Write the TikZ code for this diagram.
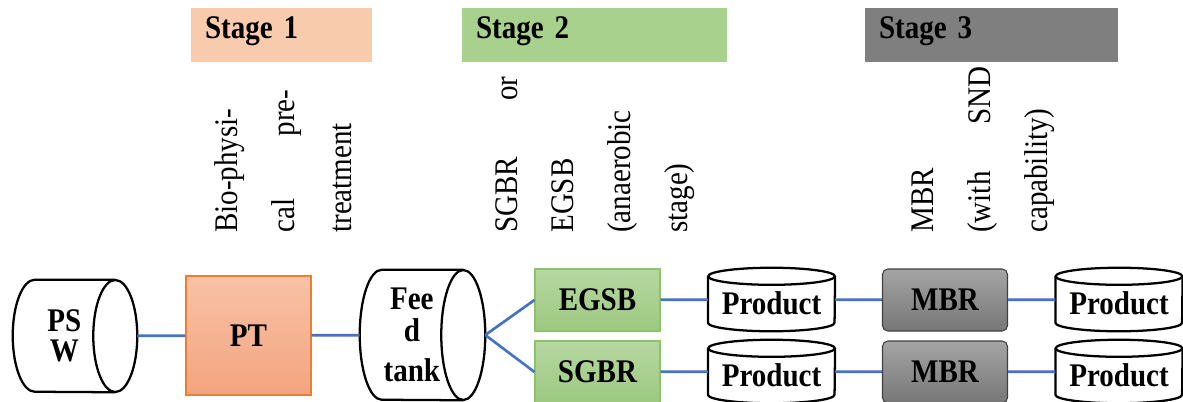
\documentclass[tikz,border=0pt]{standalone}
\usepackage{fontspec}
\setmainfont{Liberation Serif}[FakeStretch=0.88]
\definecolor{stageone}{HTML}{F7CBAC}
\definecolor{stagetwo}{HTML}{A9D18E}
\definecolor{stagethree}{HTML}{7F7F7F}
\definecolor{linkblue}{HTML}{4472C4}
\definecolor{pttop}{HTML}{F8C2A6}
\definecolor{ptbot}{HTML}{F3A47F}
\definecolor{ptline}{HTML}{ED7D31}
\definecolor{gtop}{HTML}{B6D7A1}
\definecolor{gbot}{HTML}{9CC980}
\definecolor{gline}{HTML}{8CC269}
\definecolor{mtop}{HTML}{A4A4A4}
\definecolor{mbot}{HTML}{777777}
\newcommand\lblsize{\fontsize{24.75}{24}\selectfont}
\tikzset{
  stagebox/.style={text width=#1, align=left, inner xsep=10.5pt, minimum height=40.5pt,
                   text height=15.75pt, text depth=11.25pt, font=\lblsize\bfseries},
  vnote/.style={rotate=90, anchor=base west, align=left, inner sep=0pt, text width=#1},
  unit/.style={draw, line width=0.8pt, minimum width=93.75pt, minimum height=46.5pt,
               font=\lblsize\bfseries, inner sep=0pt},
  drum/.style={align=center, font=\lblsize\bfseries, inner sep=0pt},
  prod/.style={minimum width=95pt, minimum height=47.25pt, text height=22pt, text depth=0pt,
               font=\lblsize\bfseries, inner sep=0pt},
  rim/.style={line width=1.7pt},
  link/.style={draw=linkblue, line width=2pt}
}
\begin{document}
\begin{tikzpicture}[x=0.75pt, y=-0.75pt]
\useasboundingbox (0,0) rectangle (1183,401);
% stages
\node[stagebox=114.75pt, fill=stageone] (stage1) at (281.5,35) {Stage 1};
\node[stagebox=177.75pt, fill=stagetwo] (stage2) at (594.5,35) {Stage 2};
\node[stagebox=168.75pt, fill=stagethree] (stage3) at (991.5,35) {Stage 3};
\node[vnote=107.25pt, font=\fontsize{24.75}{42.75}\selectfont] (note1) at (237,233)
  {Bio-physi-\\cal\hfill pre-\\treatment};
\node[vnote=117pt, font=\fontsize{24.75}{42.5}\selectfont] (note2) at (517,233)
  {SGBR\hfill or\\EGSB\\(anaerobic\\stage)};
\node[vnote=124.5pt, font=\fontsize{24.75}{42.75}\selectfont] (note3) at (933,233)
  {MBR\\(with\hfill SND\\capability)};
% process line
\node[drum, minimum width=93pt, minimum height=84pt] (psw) at (75,336)
  {PS\kern16pt\\[-1.5pt]W\kern16pt};
\node[unit, minimum height=89.25pt, draw=ptline, top color=pttop, bottom color=ptbot] (pt) at (248.5,335.5) {PT};
\node[drum, minimum width=93.75pt, minimum height=97.5pt] (feed) at (422.5,335)
  {Fee\kern16pt\\d\kern16pt\\[6pt]tank\kern16pt};
\foreach \t/\r in {psw/42pt, feed/48.75pt} {
  \draw[rim] ([xshift=-16.5pt]\t.north east) -- ([xshift=16.5pt]\t.north west)
    arc[start angle=90, end angle=270, x radius=16.5pt, y radius=\r]
    -- ([xshift=-16.5pt]\t.south east);
  \draw[rim] ([xshift=-16.5pt]\t.east) ellipse [x radius=16.5pt, y radius=\r];
}
\node[unit, draw=gline, top color=gtop, bottom color=gbot] (egsb) at (597.5,300) {EGSB};
\node[unit, draw=gline, top color=gtop, bottom color=gbot] (sgbr) at (597.5,372) {SGBR};
\node[prod] (prod1) at (771.5,299.5) {Product};
\node[prod] (prod2) at (771.5,371.5) {Product};
\node[unit, rounded corners=4pt, draw=black!75, top color=mtop, bottom color=mbot] (mbr1) at (945,300) {MBR};
\node[unit, rounded corners=4pt, draw=black!75, top color=mtop, bottom color=mbot] (mbr2) at (945,372) {MBR};
\node[prod] (prod3) at (1119,299.5) {Product};
\node[prod] (prod4) at (1119,371.5) {Product};
\foreach \p in {prod1,prod2,prod3,prod4} {
  \draw[rim] ([yshift=-6.4pt]\p.north west) -- ([yshift=6.4pt]\p.south west)
    arc[start angle=180, end angle=360, x radius=47.5pt, y radius=6.4pt]
    -- ([yshift=-6.4pt]\p.north east);
  \draw[rim] ([yshift=-6.4pt]\p.north) ellipse [x radius=47.5pt, y radius=6.4pt];
}
\draw[link] (psw) -- (pt);
\draw[link] (pt) -- (feed);
\draw[link] (feed.east) -- (egsb.west);
\draw[link] (feed.east) -- (sgbr.west);
\draw[link] (egsb) -- (prod1);
\draw[link] (prod1) -- (mbr1);
\draw[link] (mbr1) -- (prod3);
\draw[link] (sgbr) -- (prod2);
\draw[link] (prod2) -- (mbr2);
\draw[link] (mbr2) -- (prod4);
\end{tikzpicture}
\end{document}
